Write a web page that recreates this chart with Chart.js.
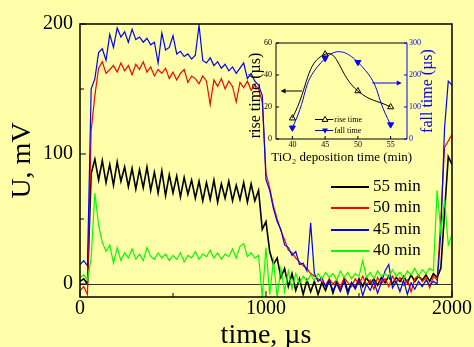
<!DOCTYPE html>
<html lang="en">
  <head>
    <meta charset="UTF-8" />
    <title>Photovoltage transients</title>
    <style>
      * {
        margin: 0;
        padding: 0;
        box-sizing: border-box;
      }

      body {
        width: 474px;
        height: 347px;
        background: #ffffaa;
        overflow: hidden;
      }

      .wrap {
        position: relative;
        width: 474px;
        height: 347px;
      }

      #mainChart {
        position: absolute;
        left: 0;
        top: 0;
      }

      #insetChart {
        position: absolute;
        left: 240px;
        top: 30px;
      }
    </style>
  </head>
  <body>
    <div class="wrap">
      <canvas id="mainChart" width="474" height="347"></canvas>
      <canvas id="insetChart" width="200" height="140"></canvas>
    </div>
    <script src="https://cdn.jsdelivr.net/npm/chart.js"></script>
    <script>
      const SERIF = "'Liberation Serif', 'Times New Roman', serif";

      // sample grid, µs (one reading every 20 µs)
      const timeUs = [];
      for (let t = 0; t <= 2000; t += 20) timeUs.push(t);

      // U, mV for each deposition time
      const u55 = [
        2, 4, 0, 85, 96, 80, 95, 78, 92, 76,
        94, 79, 90, 75, 89, 73, 88, 74, 90, 72,
        86, 70, 87, 68, 84, 70, 83, 67, 82, 69,
        80, 66, 79, 64, 78, 65, 80, 63, 77, 66,
        79, 64, 76, 65, 78, 63, 77, 64, 72, 42,
        48, 25, 15, 20, 5, 12, -2, 8, -5, 4,
        -8, 3, -6, 2, -8, 1, -5, 3, -7, 2,
        -4, 4, -6, 1, -3, 4, -2, 5, 0, 4,
        -1, 5, 1, 6, 0, 5, 2, 6, 1, 7,
        2, 6, 3, 7, 2, 8, 5, 12, 55, 98,
        92,
      ];
      const u50 = [
        -5, -2, -8, 118, 145, 166, 171, 162, 165, 168,
        163, 170, 164, 168, 161, 169, 165, 171, 163, 167,
        160, 165, 162, 166, 158, 163, 157, 162, 165, 155,
        160, 158, 154, 160, 156, 138, 157, 152, 158, 150,
        156, 152, 140, 155, 151, 156, 149, 153, 150, 140,
        85, 74, 60, 50, 41, 34, 26, 24, 20, 17,
        14, 12, 8, 6, 4, 2, -1, 4, 0, 3,
        -3, 5, 1, -2, 4, 0, 6, -1, 3, -4,
        5, 0, 4, -2, 6, 1, 5, -1, 3, -6,
        4, 7, 2, 5, -3, 6, 3, 50, 105, 110,
        115,
      ];
      const u45 = [
        15, 18, 14, 150, 158, 178, 181, 172, 192, 182,
        197, 190, 194, 186, 196, 188, 190, 186, 189, 184,
        186, 170, 193, 180, 182, 191, 177, 179, 175, 177,
        173, 176, 199, 172, 170, 174, 168, 171, 166, 169,
        164, 167, 162, 166, 170, 158, 162, 156, 153, 145,
        80, 72, 58, 48, 42, 30, 28, 22, 25, 15,
        16, 10, 47, 8, 2, 5, -2, 3, -5, 0,
        -6, 2, -8, 1, -4, 3, -9, 0, -5, 2,
        -7, 1, 10, 15, -3, 2, -6, 3, -8, 1,
        -4, 2, -2, 3, -1, 2, 0, 40, 120, 156,
        153,
      ];
      const u40 = [
        5, 7, 3, 20, 70, 45, 32, 25, 30, 16,
        28, 18, 24, 20, 27, 19, 23, 18, 28, 21,
        19, 24, 20, 23, 18, 22, 19, 24, 17, 22,
        20, 25, 19, 23, 21, 26, 20, 24, 19, 23,
        21, 27, 20, 29, 31, 21, 24, 20, 22, -10,
        28, -8, 18, -10, 12, -6, 10, -4, 8, 0,
        6, 2, 7, 3, 8, 4, 9, 5, 8, 3,
        10, 5, 9, 4, 8, 6, 18, 5, 9, 4,
        10, 6, 8, 5, 11, 6, 9, 4, 10, 7,
        12, 6, 11, 8, 12, 10, 72, 40, 65, 30,
        38,
      ];

      const seriesLabels = ["55 min", "50 min", "45 min", "40 min"];
      const seriesColors = ["#000000", "#ff0000", "#0000ff", "#00ff00"];

      const xTicks = [0, 500, 1000, 1500, 2000];
      const xTickLabels = [0, 1000, 2000];
      const yTicks = [0, 50, 100, 150, 200];
      const yTickLabels = [0, 100, 200];

      // inset: response times vs TiO2 deposition time
      const depositionMin = [40, 45, 50, 55];
      const riseTimeUs = [13, 53, 30, 20];
      const fallTimeUs = [35, 252, 240, 45];
      const insetXTicks = [40, 45, 50, 55];
      const riseTicks = [0, 20, 40, 60];
      const fallTicks = [0, 100, 200, 300];

      const mainFrame = {
        id: "mainFrame",
        beforeDatasetsDraw(chart) {
          const { ctx, chartArea: a, scales } = chart;
          const y0 = Math.round(scales.y.getPixelForValue(0)) + 0.5;
          ctx.save();
          ctx.strokeStyle = "#333";
          ctx.lineWidth = 1;
          ctx.beginPath();
          ctx.moveTo(a.left, y0);
          ctx.lineTo(a.right, y0);
          ctx.stroke();
          ctx.restore();
        },
        afterDatasetsDraw(chart) {
          const { ctx, chartArea: a, scales } = chart;
          ctx.save();
          ctx.strokeStyle = "#000";
          ctx.lineWidth = 1.5;
          ctx.strokeRect(a.left, a.top, a.width, a.height);

          ctx.lineWidth = 1;
          ctx.beginPath();
          xTicks.forEach((v) => {
            const px = scales.x.getPixelForValue(v);
            const len = xTickLabels.includes(v) ? 6 : 4;
            ctx.moveTo(px, a.bottom);
            ctx.lineTo(px, a.bottom - len);
          });
          yTicks.forEach((v) => {
            const py = scales.y.getPixelForValue(v);
            const len = yTickLabels.includes(v) ? 6 : 4;
            ctx.moveTo(a.left, py);
            ctx.lineTo(a.left + len, py);
          });
          ctx.stroke();

          // legend
          ctx.font = "17px " + SERIF;
          ctx.textBaseline = "middle";
          ctx.textAlign = "left";
          ctx.fillStyle = "#000";
          seriesLabels.forEach((label, i) => {
            const ly = 187 + Math.round(i * 21.3);
            ctx.strokeStyle = seriesColors[i];
            ctx.lineWidth = 2;
            ctx.beginPath();
            ctx.moveTo(331, ly);
            ctx.lineTo(369, ly);
            ctx.stroke();
            ctx.fillText(label, 373, ly);
          });
          ctx.restore();
        },
      };

      const series = [u55, u50, u45, u40];
      new Chart(document.getElementById("mainChart"), {
        type: "line",
        data: {
          datasets: series.map((vals, i) => ({
            label: seriesLabels[i],
            data: vals.map((v, k) => ({ x: timeUs[k], y: v })),
            borderColor: seriesColors[i],
            borderWidth: i === 0 ? 1.6 : 1.2,
            pointRadius: 0,
            tension: 0,
            order: 4 - i,
          })),
        },
        options: {
          responsive: false,
          animation: false,
          layout: { padding: { top: 24, right: 22, left: 0, bottom: 0 } },
          plugins: { legend: { display: false }, tooltip: { enabled: false } },
          scales: {
            x: {
              type: "linear",
              min: 0,
              max: 2000,
              afterBuildTicks: (s) => {
                s.ticks = xTicks.map((v) => ({ value: v }));
              },
              afterFit: (s) => {
                s.height = 50;
              },
              grid: { display: false, drawTicks: false },
              border: { display: false },
              ticks: {
                padding: 0,
                maxRotation: 0,
                autoSkip: false,
                color: "#000",
                font: { family: SERIF, size: 20 },
                callback: (v) => (xTickLabels.includes(v) ? String(v) : ""),
              },
              title: {
                display: true,
                text: "time, µs",
                color: "#000",
                font: { family: SERIF, size: 28, lineHeight: 0.8 },
                padding: 0,
              },
            },
            y: {
              min: -10,
              max: 200,
              afterBuildTicks: (s) => {
                s.ticks = yTicks.map((v) => ({ value: v }));
              },
              afterFit: (s) => {
                s.width = 80;
              },
              grid: { display: false, drawTicks: false },
              border: { display: false },
              ticks: {
                padding: 7,
                color: "#000",
                font: { family: SERIF, size: 20 },
                callback: (v) => (yTickLabels.includes(v) ? String(v) : ""),
              },
              title: {
                display: true,
                text: "U, mV",
                color: "#000",
                font: { family: SERIF, size: 28 },
                padding: { top: 6, bottom: 0 },
              },
            },
          },
        },
        plugins: [mainFrame],
      });

      function arrow(ctx, x1, y, x2, color) {
        const dir = x2 > x1 ? 1 : -1;
        ctx.strokeStyle = color;
        ctx.fillStyle = color;
        ctx.beginPath();
        ctx.moveTo(x1, y);
        ctx.lineTo(x2 - dir * 4, y);
        ctx.stroke();
        ctx.beginPath();
        ctx.moveTo(x2, y);
        ctx.lineTo(x2 - dir * 5, y - 2.5);
        ctx.lineTo(x2 - dir * 5, y + 2.5);
        ctx.closePath();
        ctx.fill();
      }

      function triangle(ctx, cx, cy, r, down) {
        const s = down ? -1 : 1;
        ctx.beginPath();
        ctx.moveTo(cx, cy - s * r);
        ctx.lineTo(cx - r * 0.9, cy + s * r * 0.6);
        ctx.lineTo(cx + r * 0.9, cy + s * r * 0.6);
        ctx.closePath();
      }

      const insetDecor = {
        id: "insetDecor",
        afterDatasetsDraw(chart) {
          const { ctx, chartArea: a, scales } = chart;
          const { x, yRise, yFall } = scales;
          ctx.save();
          ctx.lineWidth = 1;

          ctx.strokeStyle = "#000";
          ctx.beginPath();
          ctx.moveTo(a.right, a.top);
          ctx.lineTo(a.left, a.top);
          ctx.lineTo(a.left, a.bottom);
          ctx.lineTo(a.right, a.bottom);
          insetXTicks.forEach((v) => {
            const px = x.getPixelForValue(v);
            ctx.moveTo(px, a.bottom);
            ctx.lineTo(px, a.bottom - 3);
          });
          riseTicks.forEach((v) => {
            const py = yRise.getPixelForValue(v);
            ctx.moveTo(a.left, py);
            ctx.lineTo(a.left + 3, py);
          });
          ctx.stroke();

          ctx.strokeStyle = "#0000ff";
          ctx.beginPath();
          ctx.moveTo(a.right, a.top);
          ctx.lineTo(a.right, a.bottom);
          fallTicks.forEach((v) => {
            const py = yFall.getPixelForValue(v);
            ctx.moveTo(a.right, py);
            ctx.lineTo(a.right - 3, py);
          });
          ctx.stroke();

          // arrows pointing to each curve's axis
          arrow(ctx, x.getPixelForValue(41.5), yRise.getPixelForValue(30), x.getPixelForValue(38.2), "#000");
          arrow(ctx, x.getPixelForValue(52.2), yFall.getPixelForValue(175), x.getPixelForValue(56.7), "#0000ff");

          // axis titles
          ctx.font = "16px " + SERIF;
          ctx.textAlign = "center";
          ctx.textBaseline = "middle";
          ctx.fillStyle = "#000";
          ctx.save();
          ctx.translate(15.6, 65.5);
          ctx.rotate(-Math.PI / 2);
          ctx.fillText("rise time (µs)", 0, 0);
          ctx.restore();
          ctx.fillStyle = "#0000ff";
          ctx.save();
          ctx.translate(188, 61);
          ctx.rotate(-Math.PI / 2);
          ctx.fillText("fall time (µs)", 0, 0);
          ctx.restore();

          ctx.fillStyle = "#000";
          ctx.font = "13px " + SERIF;
          ctx.textBaseline = "alphabetic";
          ctx.fillText("TiO₂ deposition time (min)", 101.7, 130.7);

          // legend
          ctx.font = "8px " + SERIF;
          ctx.textAlign = "left";
          ctx.textBaseline = "middle";
          const rows = [
            { y: 89.5, color: "#000", label: "rise time", down: false },
            { y: 100.5, color: "#0000ff", label: "fall time", down: true },
          ];
          rows.forEach((r) => {
            ctx.strokeStyle = r.color;
            ctx.beginPath();
            ctx.moveTo(75, r.y);
            ctx.lineTo(93.3, r.y);
            ctx.stroke();
            triangle(ctx, 85, r.y, 3.2, r.down);
            if (r.down) {
              ctx.fillStyle = r.color;
              ctx.fill();
            } else {
              ctx.fillStyle = "#ffffaa";
              ctx.fill();
              ctx.stroke();
            }
            ctx.fillStyle = "#000";
            ctx.fillText(r.label, 94.3, r.y);
          });
          ctx.restore();
        },
      };

      new Chart(document.getElementById("insetChart"), {
        type: "line",
        data: {
          datasets: [
            {
              label: "rise time",
              data: depositionMin.map((m, i) => ({ x: m, y: riseTimeUs[i] })),
              yAxisID: "yRise",
              borderColor: "#000",
              borderWidth: 1,
              tension: 0.5,
              pointStyle: "triangle",
              pointRadius: 3.5,
              pointBackgroundColor: "rgba(0,0,0,0)",
              pointBorderColor: "#000",
              pointBorderWidth: 1,
            },
            {
              label: "fall time",
              data: depositionMin.map((m, i) => ({ x: m, y: fallTimeUs[i] })),
              yAxisID: "yFall",
              borderColor: "#0000ff",
              borderWidth: 1,
              tension: 0.55,
              pointStyle: "triangle",
              pointRotation: 180,
              pointRadius: 3.5,
              pointBackgroundColor: "#0000ff",
              pointBorderColor: "#0000ff",
              pointBorderWidth: 1,
            },
          ],
        },
        options: {
          responsive: false,
          animation: false,
          layout: { padding: { top: 13, left: 0, right: 0, bottom: 0 } },
          plugins: { legend: { display: false }, tooltip: { enabled: false } },
          scales: {
            x: {
              type: "linear",
              min: 37.5,
              max: 57.5,
              afterBuildTicks: (s) => {
                s.ticks = insetXTicks.map((v) => ({ value: v }));
              },
              afterFit: (s) => {
                s.height = 31;
              },
              grid: { display: false, drawTicks: false },
              border: { display: false },
              ticks: {
                padding: 1,
                maxRotation: 0,
                autoSkip: false,
                color: "#000",
                font: { family: SERIF, size: 8 },
              },
            },
            yRise: {
              position: "left",
              min: 0,
              max: 60,
              afterBuildTicks: (s) => {
                s.ticks = riseTicks.map((v) => ({ value: v }));
              },
              afterFit: (s) => {
                s.width = 36;
              },
              grid: { display: false, drawTicks: false },
              border: { display: false },
              ticks: { padding: 4, color: "#000", font: { family: SERIF, size: 8 } },
            },
            yFall: {
              position: "right",
              min: 0,
              max: 300,
              afterBuildTicks: (s) => {
                s.ticks = fallTicks.map((v) => ({ value: v }));
              },
              afterFit: (s) => {
                s.width = 33;
              },
              grid: { display: false, drawTicks: false },
              border: { display: false },
              ticks: { padding: 2, color: "#0000ff", font: { family: SERIF, size: 8 } },
            },
          },
        },
        plugins: [insetDecor],
      });
    </script>
  </body>
</html>
